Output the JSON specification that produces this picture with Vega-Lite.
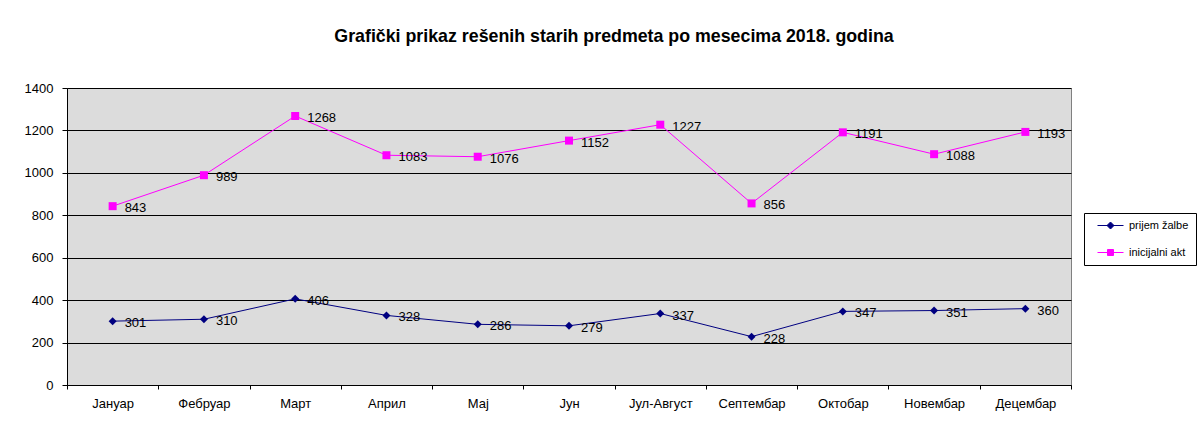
{
  "$schema": "https://vega.github.io/schema/vega-lite/v6.json",
  "width": 1004,
  "height": 297,
  "autosize": {"type": "none"},
  "padding": {"left": 67, "top": 88, "right": 129, "bottom": 45},
  "background": "white",
  "title": {
    "text": "Grafički prikaz rešenih starih predmeta po mesecima 2018. godina",
    "font": "Liberation Sans",
    "fontSize": 17.8,
    "fontWeight": "bold",
    "color": "#000000",
    "anchor": "middle",
    "dx": 45,
    "offset": 36
  },
  "config": {
    "view": {"fill": "#DCDCDC", "stroke": "#808080", "strokeWidth": 1},
    "font": "Liberation Sans"
  },
  "data": {
    "values": [
      {"mesec": "Јануар", "serija": "prijem žalbe", "vrednost": 301},
      {"mesec": "Фебруар", "serija": "prijem žalbe", "vrednost": 310},
      {"mesec": "Март", "serija": "prijem žalbe", "vrednost": 406},
      {"mesec": "Април", "serija": "prijem žalbe", "vrednost": 328},
      {"mesec": "Мај", "serija": "prijem žalbe", "vrednost": 286},
      {"mesec": "Јун", "serija": "prijem žalbe", "vrednost": 279},
      {"mesec": "Јул-Август", "serija": "prijem žalbe", "vrednost": 337},
      {"mesec": "Септембар", "serija": "prijem žalbe", "vrednost": 228},
      {"mesec": "Октобар", "serija": "prijem žalbe", "vrednost": 347},
      {"mesec": "Новембар", "serija": "prijem žalbe", "vrednost": 351},
      {"mesec": "Децембар", "serija": "prijem žalbe", "vrednost": 360},
      {"mesec": "Јануар", "serija": "inicijalni akt", "vrednost": 843},
      {"mesec": "Фебруар", "serija": "inicijalni akt", "vrednost": 989},
      {"mesec": "Март", "serija": "inicijalni akt", "vrednost": 1268},
      {"mesec": "Април", "serija": "inicijalni akt", "vrednost": 1083},
      {"mesec": "Мај", "serija": "inicijalni akt", "vrednost": 1076},
      {"mesec": "Јун", "serija": "inicijalni akt", "vrednost": 1152},
      {"mesec": "Јул-Август", "serija": "inicijalni akt", "vrednost": 1227},
      {"mesec": "Септембар", "serija": "inicijalni akt", "vrednost": 856},
      {"mesec": "Октобар", "serija": "inicijalni akt", "vrednost": 1191},
      {"mesec": "Новембар", "serija": "inicijalni akt", "vrednost": 1088},
      {"mesec": "Децембар", "serija": "inicijalni akt", "vrednost": 1193}
    ]
  },
  "encoding": {
    "x": {
      "field": "mesec",
      "type": "nominal",
      "sort": null,
      "scale": {"paddingInner": 0, "paddingOuter": 0},
      "axis": {
        "title": null,
        "labelAngle": 0,
        "labelFont": "Liberation Sans",
        "labelFontSize": 13,
        "labelColor": "#000000",
        "labelPadding": 8,
        "tickBand": "extent",
        "tickSize": 4,
        "tickColor": "#000000",
        "domainColor": "#000000",
        "grid": false
      }
    },
    "y": {
      "field": "vrednost",
      "type": "quantitative",
      "scale": {"domain": [0, 1400], "nice": false},
      "axis": {
        "title": null,
        "values": [0, 200, 400, 600, 800, 1000, 1200, 1400],
        "format": "d",
        "labelFont": "Liberation Sans",
        "labelFontSize": 13,
        "labelColor": "#000000",
        "labelPadding": 9,
        "tickSize": 5,
        "tickColor": "#000000",
        "domainColor": "#000000",
        "grid": true,
        "gridColor": "#000000",
        "gridOpacity": 1,
        "gridWidth": 1
      }
    }
  },
  "layer": [
    {
      "mark": {"type": "line", "strokeWidth": 1},
      "encoding": {
        "color": {
          "field": "serija",
          "type": "nominal",
          "scale": {"domain": ["prijem žalbe", "inicijalni akt"], "range": ["#000080", "#FF00FF"]},
          "legend": {
            "title": null,
            "orient": "none",
            "legendX": 1017,
            "legendY": 125,
            "strokeColor": "#000000",
            "fillColor": "#FFFFFF",
            "padding": 7,
            "labelFont": "Liberation Sans",
            "labelFontSize": 11,
            "labelColor": "#000000",
            "symbolSize": 100,
            "symbolStrokeWidth": 1,
            "symbolOffset": 14,
            "labelOffset": 13,
            "rowPadding": 15,
            "encode": {
              "symbols": {
                "update": {
                  "shape": {"signal": "datum.value === 'prijem žalbe' ? 'M-2.6,0H2.6M0,-0.7L0.7,0L0,0.7L-0.7,0Z' : 'M-2.6,0H2.6M-0.6,-0.6H0.6V0.6H-0.6Z'"},
                  "fill": {"scale": "color", "field": "value"},
                  "stroke": {"scale": "color", "field": "value"},
                  "opacity": {"value": 1}
                }
              }
            }
          }
        }
      }
    },
    {
      "transform": [{"filter": "datum.serija === 'prijem žalbe'"}],
      "mark": {"type": "point", "filled": true, "opacity": 1, "size": 64, "shape": "diamond", "color": "#000080"}
    },
    {
      "transform": [{"filter": "datum.serija === 'inicijalni akt'"}],
      "mark": {"type": "point", "filled": true, "opacity": 1, "size": 64, "shape": "square", "color": "#FF00FF"}
    },
    {
      "mark": {"type": "text", "align": "left", "baseline": "middle", "dx": 12, "dy": 2, "fontSize": 13, "font": "Liberation Sans", "color": "#000000"},
      "encoding": {
        "text": {"field": "vrednost", "type": "quantitative"}
      }
    }
  ]
}
